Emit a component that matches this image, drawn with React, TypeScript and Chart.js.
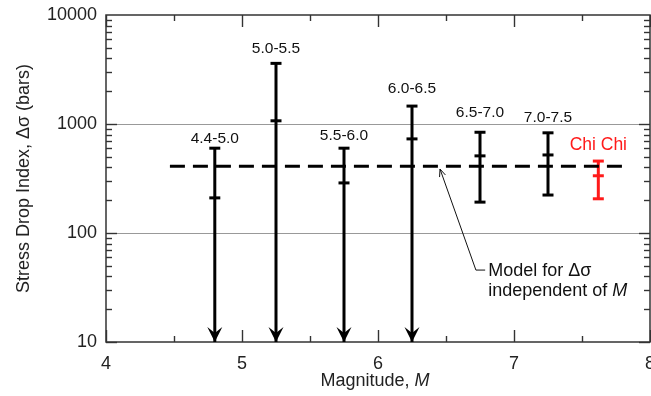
import { useEffect, useRef } from 'react';
import { Chart, registerables } from 'chart.js';

Chart.register(...registerables);

// ---- data ----
const groupLabels = ['4.4-5.0', '5.0-5.5', '5.5-6.0', '6.0-6.5', '6.5-7.0', '7.0-7.5'];
const groupM = [4.8, 5.25, 5.75, 6.25, 6.75, 7.25];
const groupHigh = [600, 3600, 600, 1460, 840, 830];
const groupMid = [210, 1070, 288, 730, 510, 520];
const groupLow: (number | null)[] = [null, null, null, null, 192, 223]; // null = unbounded (arrow down)
const groupLabelAt = [670, 4480, 713, 1924, 1159, 1043];

const chiChiLabel = 'Chi Chi';
const chiChiM = 7.62;
const chiChiHigh = 457;
const chiChiMid = 335;
const chiChiLow = 206;
const chiChiLabelAt = 577;

const modelStress = 410;
const modelRange = [4.47, 7.85];

const noteLines = ['Model for \u0394\u03c3', 'independent of '];
const noteItalic = 'M';
const noteTip = { m: 6.456, s: 386 };
const noteElbow = { m: 6.72, s: 45.7 };
const noteTextAt = { m: 6.81, s: 40.3 };

const xTickValues = [4, 5, 6, 7, 8];
const yTickValues = [10, 100, 1000, 10000];
const xTitle = 'Magnitude, ';
const xTitleItalic = 'M';
const yTitle = 'Stress Drop Index, \u0394\u03c3 (bars)';

const FONT = '"Liberation Sans", Arial, sans-serif';
const RED = '#ff1a1a';

function line(ctx: CanvasRenderingContext2D, x1: number, y1: number, x2: number, y2: number) {
  ctx.beginPath();
  ctx.moveTo(x1, y1);
  ctx.lineTo(x2, y2);
  ctx.stroke();
}

function zeroPadding(s: any) {
  s.paddingLeft = 0;
  s.paddingRight = 0;
  s.paddingTop = 0;
  s.paddingBottom = 0;
}

const decor = {
  id: 'decor',
  beforeDatasetsDraw(chart: any) {
    const { ctx, chartArea: a } = chart;
    const x = chart.scales.x;
    const y = chart.scales.y;
    ctx.save();
    ctx.strokeStyle = '#333';
    ctx.lineWidth = 1.5;
    ctx.strokeRect(a.left, a.top, a.right - a.left, a.bottom - a.top);
    ctx.lineWidth = 1.4;
    const xmin = xTickValues[0];
    const xmax = xTickValues[xTickValues.length - 1];
    for (let m = xmin; m <= xmax + 1e-9; m += 0.5) {
      const px = Math.round(x.getPixelForValue(m)) + 0.5;
      const len = Math.abs(m - Math.round(m)) < 1e-9 ? 12 : 6;
      line(ctx, px, a.bottom, px, a.bottom - len);
      line(ctx, px, a.top, px, a.top + len);
    }
    for (let i = 0; i < yTickValues.length - 1; i++) {
      const d = yTickValues[i];
      for (let k = 1; k <= 9; k++) {
        const py = Math.round(y.getPixelForValue(d * k)) + 0.5;
        const len = k === 1 ? 11 : 6;
        line(ctx, a.left, py, a.left + len, py);
        line(ctx, a.right, py, a.right - len, py);
      }
    }
    ctx.restore();
  },
  afterDatasetsDraw(chart: any) {
    const { ctx, chartArea: a } = chart;
    const x = chart.scales.x;
    const y = chart.scales.y;
    ctx.save();
    // arrowheads for unbounded groups
    ctx.fillStyle = '#000';
    groupLow.forEach((lo, i) => {
      if (lo !== null) return;
      const px = x.getPixelForValue(groupM[i]);
      const py = y.getPixelForValue(yTickValues[0]);
      ctx.beginPath();
      ctx.moveTo(px, py);
      ctx.lineTo(px - 7.5, py - 15);
      ctx.lineTo(px, py - 9);
      ctx.lineTo(px + 7.5, py - 15);
      ctx.closePath();
      ctx.fill();
    });
    // group labels
    ctx.textAlign = 'center';
    ctx.textBaseline = 'alphabetic';
    ctx.fillStyle = '#111';
    ctx.font = `15.5px ${FONT}`;
    groupLabels.forEach((t, i) => {
      ctx.fillText(t, x.getPixelForValue(groupM[i]), y.getPixelForValue(groupLabelAt[i]));
    });
    ctx.fillStyle = RED;
    ctx.font = `17.5px ${FONT}`;
    ctx.fillText(chiChiLabel, x.getPixelForValue(chiChiM), y.getPixelForValue(chiChiLabelAt));

    // model note
    ctx.strokeStyle = '#111';
    ctx.lineWidth = 1;
    const tx = x.getPixelForValue(noteTip.m);
    const ty = y.getPixelForValue(noteTip.s);
    const ex = x.getPixelForValue(noteElbow.m);
    const ey = y.getPixelForValue(noteElbow.s);
    const textX = x.getPixelForValue(noteTextAt.m);
    const textY = y.getPixelForValue(noteTextAt.s);
    ctx.beginPath();
    ctx.moveTo(textX - 3, ey);
    ctx.lineTo(ex, ey);
    ctx.lineTo(tx, ty);
    ctx.stroke();
    const ang = Math.atan2(ey - ty, ex - tx);
    const hl = 8;
    ctx.beginPath();
    ctx.moveTo(tx + hl * Math.cos(ang - 0.4), ty + hl * Math.sin(ang - 0.4));
    ctx.lineTo(tx, ty);
    ctx.lineTo(tx + hl * Math.cos(ang + 0.4), ty + hl * Math.sin(ang + 0.4));
    ctx.stroke();
    ctx.textAlign = 'left';
    ctx.fillStyle = '#111';
    ctx.font = `18px ${FONT}`;
    ctx.fillText(noteLines[0], textX, textY);
    ctx.fillText(noteLines[1], textX, textY + 20);
    const w1 = ctx.measureText(noteLines[1]).width;
    ctx.font = `italic 18px ${FONT}`;
    ctx.fillText(noteItalic, textX + w1, textY + 20);

    // x title
    ctx.font = `18px ${FONT}`;
    const wa = ctx.measureText(xTitle).width;
    ctx.font = `italic 18px ${FONT}`;
    const wb = ctx.measureText(xTitleItalic).width;
    const cx = (a.left + a.right) / 2 - 3;
    const bx = cx - (wa + wb) / 2;
    ctx.font = `18px ${FONT}`;
    ctx.fillStyle = '#222';
    ctx.fillText(xTitle, bx, 386);
    ctx.font = `italic 18px ${FONT}`;
    ctx.fillText(xTitleItalic, bx + wa, 386);

    // y title
    ctx.translate(29, (a.top + a.bottom) / 2);
    ctx.rotate(-Math.PI / 2);
    ctx.textAlign = 'center';
    ctx.font = `18px ${FONT}`;
    ctx.fillText(yTitle, 0, 0);
    ctx.restore();
  },
};

export default function App() {
  const ref = useRef<HTMLCanvasElement>(null);
  useEffect(() => {
    if (!ref.current) return;
    const barDatasets = groupM.map((m, i) => {
      const lo = groupLow[i];
      return {
        type: 'line' as const,
        data: [
          { x: m, y: groupHigh[i] },
          { x: m, y: groupMid[i] },
          { x: m, y: lo === null ? yTickValues[0] : lo },
        ],
        borderColor: '#000',
        backgroundColor: '#000',
        borderWidth: 3,
        pointBorderWidth: 3,
        pointRadius: 5.5,
        pointStyle: (c: any) => (c.dataIndex === 2 && lo === null ? false : 'line'),
        tension: 0,
      };
    });
    const chart = new Chart(ref.current, {
      type: 'line',
      data: {
        datasets: [
          {
            data: [
              { x: modelRange[0], y: modelStress },
              { x: modelRange[1], y: modelStress },
            ],
            borderColor: '#000',
            borderWidth: 3,
            borderDash: [15, 8],
            pointRadius: 0,
          },
          ...barDatasets,
          {
            data: [
              { x: chiChiM, y: chiChiHigh },
              { x: chiChiM, y: chiChiMid },
              { x: chiChiM, y: chiChiLow },
            ],
            borderColor: RED,
            backgroundColor: RED,
            borderWidth: 3,
            pointBorderWidth: 3,
            pointRadius: 5.5,
            pointStyle: 'line',
          },
        ] as any,
      },
      options: {
        animation: false,
        responsive: false,
        events: [],
        layout: { autoPadding: false, padding: { top: 15, right: 1, left: 0, bottom: 0 } } as any,
        plugins: { legend: { display: false }, tooltip: { enabled: false } },
        scales: {
          x: {
            type: 'linear',
            min: 4,
            max: 8,
            afterBuildTicks: (s: any) => {
              s.ticks = xTickValues.map((v) => ({ value: v }));
            },
            afterFit: (s: any) => {
              s.height = 54;
              zeroPadding(s);
            },
            grid: { display: false, drawTicks: false },
            border: { display: false },
            ticks: {
              autoSkip: false,
              maxRotation: 0,
              padding: 11,
              color: '#222',
              font: { family: FONT, size: 18 },
              callback: (v: any) => String(v),
            },
          },
          y: {
            type: 'logarithmic',
            min: 10,
            max: 10000,
            afterBuildTicks: (s: any) => {
              s.ticks = yTickValues.map((v) => ({ value: v }));
            },
            afterFit: (s: any) => {
              s.width = 106;
              zeroPadding(s);
            },
            grid: {
              drawTicks: false,
              color: (c: any) =>
                c.tick && c.tick.value > yTickValues[0] && c.tick.value < yTickValues[yTickValues.length - 1]
                  ? '#999'
                  : 'rgba(0,0,0,0)',
              lineWidth: 1,
            },
            border: { display: false },
            ticks: {
              autoSkip: false,
              padding: 9,
              color: '#222',
              font: { family: FONT, size: 18 },
              callback: (v: any) => String(v),
            },
          },
        },
      },
      plugins: [decor],
    });
    return () => chart.destroy();
  }, []);
  return (
    <div style={{ position: 'fixed', left: 0, top: 0, width: 651, height: 396, background: '#fff' }}>
      <canvas ref={ref} width={651} height={396} style={{ display: 'block' }} />
    </div>
  );
}
